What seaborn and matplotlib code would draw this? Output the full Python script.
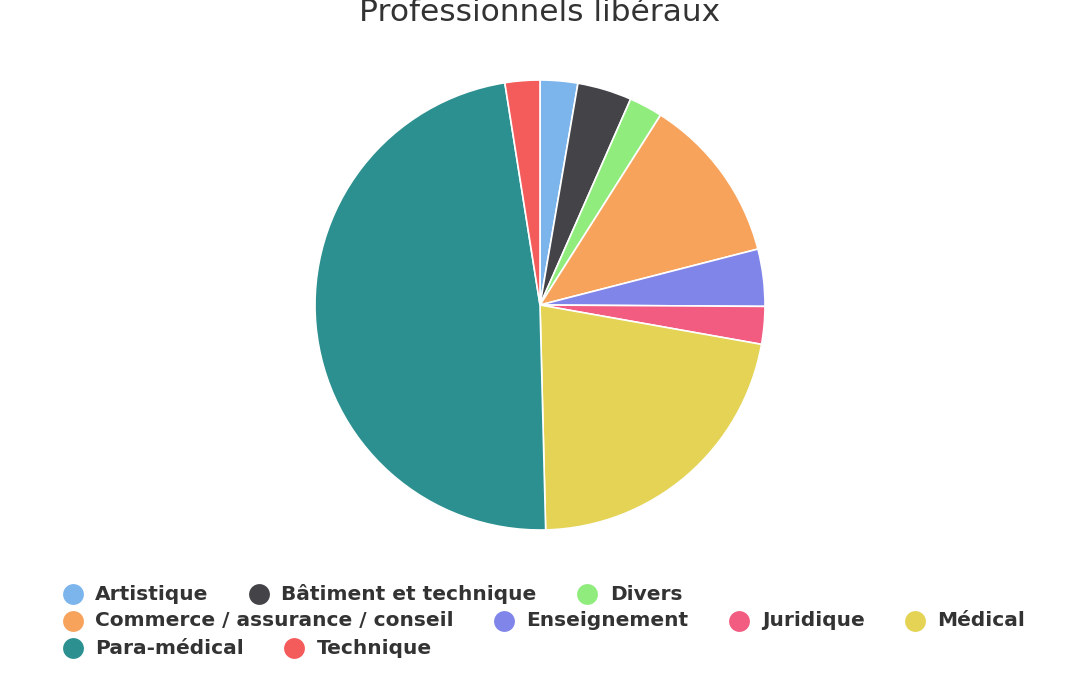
import matplotlib.pyplot as plt
import seaborn as sns
from matplotlib.lines import Line2D

# share of each category (%), clockwise from 12 o'clock
categories = ["Artistique", "Bâtiment et technique", "Divers",
              "Commerce / assurance / conseil", "Enseignement", "Juridique",
              "Médical", "Para-médical", "Technique"]
shares = [2.7, 3.9, 2.4, 12.0, 4.1, 2.7, 21.8, 47.9, 2.5]
colors = ["#7cb5ec", "#434348", "#90ed7d", "#f7a35c", "#8085e9",
          "#f15c80", "#e4d354", "#2b908f", "#f45b5b"]
title = "Professionnels libéraux"

W, H = 1080, 675
sns.set_theme(style="white")
plt.rcParams['font.family'] = ['DejaVu Sans']

fig = plt.figure(figsize=(W / 100, H / 100), dpi=100)
fig.patch.set_facecolor("white")

# pie placed in pixel coords: centre (540, 305 from top), radius 225
cx, cy, r = 540, 305, 225
ax = fig.add_axes([(cx - r) / W, (H - cy - r) / H, 2 * r / W, 2 * r / H])
palette = sns.color_palette(colors)
wedges, _ = ax.pie(shares, colors=palette, startangle=90, counterclock=False,
                   wedgeprops=dict(edgecolor="white", linewidth=1.2))
for w in wedges:
    w.set_clip_on(False)
ax.set_xlim(-1, 1)
ax.set_ylim(-1, 1)
ax.set_aspect("equal")
ax.axis("off")

fig.text(0.5, 1 - 21 / H, title, ha="center", va="baseline",
         fontsize=22.5, color="#333333")

# legend laid out like a flowing html legend
renderer = fig.canvas.get_renderer()
sym_w = 33
gap = 40
max_w = 1000
items = []
for name, col in zip(categories, palette):
    t = fig.text(0, 0, name, fontsize=14.5, fontweight="bold",
                 color="#333333", va="center", ha="left")
    tw = t.get_window_extent(renderer).width
    items.append((t, col, sym_w + tw))

rows, cur, cur_w = [], [], 0
for it in items:
    need = it[2] if not cur else cur_w + gap + it[2]
    if cur and need > max_w:
        rows.append((cur, cur_w))
        cur, cur_w = [it], it[2]
    else:
        cur.append(it)
        cur_w = need
rows.append((cur, cur_w))

left = 62
row_y = 594
for row, _ in rows:
    x = left
    for t, col, iw in row:
        yf = 1 - row_y / H
        fig.add_artist(Line2D([(x + 10.5) / W], [yf], marker="o", markersize=15,
                              color=col, markeredgewidth=0,
                              transform=fig.transFigure))
        t.set_position(((x + sym_w) / W, yf))
        x += iw + gap
    row_y += 27

fig.savefig("out.png", dpi=100, facecolor="white")
